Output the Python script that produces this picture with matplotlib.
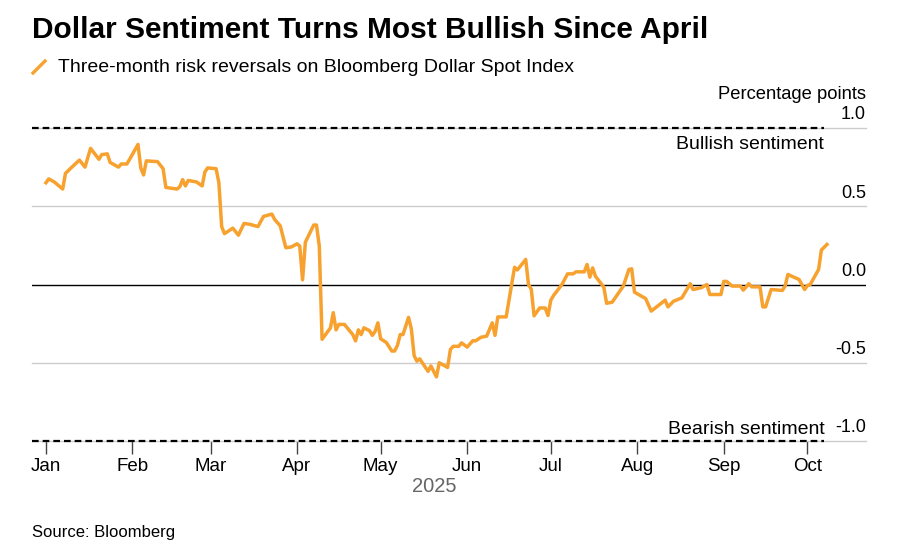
import datetime as dt
import matplotlib
matplotlib.use("Agg")
import matplotlib.pyplot as plt
import matplotlib.dates as mdates
from matplotlib.lines import Line2D

plt.rcParams['font.family'] = ['Liberation Sans', 'DejaVu Sans']

# days since 2025-01-01 and risk reversal values (percentage points)
day_offsets = [
    0, 1, 3, 6, 7, 9, 12, 14, 16, 19, 20, 22, 23, 26, 27, 29, 30, 33, 34, 35,
    36, 40, 42, 43, 47, 48, 49, 50, 51, 54, 56, 57, 58, 61, 62, 63, 64, 67, 69, 71,
    73, 76, 78, 81, 82, 84, 86, 88, 90, 91, 92, 93, 96, 97, 98, 99, 102, 103, 104, 105,
    107, 110, 111, 112, 113, 114, 116, 117, 118, 119, 120, 122, 124, 125, 126, 127, 128, 130, 131, 132,
    133, 134, 137, 138, 140, 141, 144, 145, 146, 148, 149, 151, 153, 154, 156, 158, 160, 161, 162, 165,
    168, 169, 172, 173, 174, 175, 177, 179, 180, 181, 182, 185, 187, 189, 190, 193, 194, 195, 196, 197,
    200, 201, 203, 207, 209, 210, 211, 215, 217, 222, 223, 225, 228, 231, 232, 235, 237, 238, 242, 243,
    244, 246, 249, 250, 252, 253, 256, 257, 258, 260, 264, 265, 266, 270, 272, 273, 274, 277, 278, 280,
]
risk_reversal = [
    0.65, 0.675, 0.655, 0.61, 0.71, 0.745, 0.795, 0.75, 0.87, 0.80, 0.83, 0.835, 0.78, 0.75, 0.77, 0.77, 0.80, 0.895, 0.745, 0.70,
    0.79, 0.785, 0.74, 0.62, 0.61, 0.625, 0.67, 0.63, 0.665, 0.655, 0.63, 0.72, 0.745, 0.74, 0.65, 0.37, 0.325, 0.36, 0.315, 0.39,
    0.385, 0.37, 0.435, 0.45, 0.415, 0.375, 0.235, 0.24, 0.26, 0.245, 0.03, 0.27, 0.38, 0.38, 0.245, -0.35, -0.277, -0.18, -0.29, -0.255,
    -0.255, -0.32, -0.36, -0.29, -0.32, -0.277, -0.295, -0.325, -0.30, -0.245, -0.347, -0.37, -0.425, -0.425, -0.39, -0.32, -0.32, -0.21, -0.283, -0.455,
    -0.49, -0.475, -0.555, -0.52, -0.59, -0.50, -0.53, -0.415, -0.395, -0.395, -0.373, -0.40, -0.36, -0.36, -0.337, -0.33, -0.245, -0.325, -0.207, -0.207,
    0.11, 0.093, 0.16, 0.0, -0.03, -0.20, -0.15, -0.15, -0.198, -0.10, -0.07, 0.0, 0.068, 0.068, 0.081, 0.081, 0.128, 0.047, 0.106, 0.053,
    -0.017, -0.12, -0.113, -0.01, 0.096, 0.10, -0.049, -0.09, -0.17, -0.10, -0.143, -0.107, -0.085, 0.005, -0.032, -0.02, 0.0, -0.064, -0.064, 0.02,
    0.02, -0.01, -0.01, -0.036, 0.005, -0.015, -0.015, -0.143, -0.143, -0.032, -0.038, -0.01, 0.064, 0.032, -0.032, -0.006, 0.0, 0.096, 0.22, 0.256,
]
y_ticks = [1.0, 0.5, 0.0, -0.5, -1.0]

start = dt.date(2025, 1, 1)
dates = [start + dt.timedelta(days=d) for d in day_offsets]
orange = '#f7a12f'

W, H = 904, 551
fig = plt.figure(figsize=(W / 100, H / 100), dpi=100)
ax = fig.add_axes([32 / W, 1 - 441 / H, (866 - 32) / W, (441 - 128) / H])
ax.set_xlim(dt.date(2024, 12, 27), dt.date(2025, 10, 22))
ax.set_ylim(-1.0, 1.0)

for s in ax.spines.values():
    s.set_visible(False)

# grid lines
for v in [1.0, 0.5, -0.5, -1.0]:
    ax.axhline(v, color='#cccccc', lw=1, clip_on=False)
ax.axhline(0.0, color='black', lw=1)
ax.axhline(1.0, xmax=0.95, color='black', lw=1.6, ls=(0, (3, 1.8)), clip_on=False)
ax.axhline(-1.0, xmax=0.95, color='black', lw=1.6, ls=(0, (3, 1.8)), clip_on=False)

ax.plot(dates, risk_reversal, color=orange, lw=2.5, solid_joinstyle='round')

# x axis
ax.xaxis.set_major_locator(mdates.MonthLocator(bymonth=range(1, 11)))
ax.xaxis.set_major_formatter(mdates.DateFormatter('%b'))
ax.tick_params(axis='x', length=9, width=1, color='#444444', labelsize=13.5, pad=3)
ax.set_yticks([])

# y labels sit above the lines, right aligned
for v in y_ticks:
    ax.text(1.0, v + 0.03, f'{v:.1f}', transform=ax.get_yaxis_transform(),
            ha='right', va='bottom', fontsize=13)
ax.text(1.0, 1.16, 'Percentage points', transform=ax.get_yaxis_transform(),
        ha='right', va='bottom', fontsize=13.2)
ax.text(0.95, 0.895, 'Bullish sentiment', transform=ax.get_yaxis_transform(),
        ha='right', va='center', fontsize=14)
ax.text(0.95, -0.925, 'Bearish sentiment', transform=ax.get_yaxis_transform(),
        ha='right', va='center', fontsize=14)

fig.text(434 / W, 1 - 487 / H, '2025', ha='center', va='center', fontsize=14.5, color='#666666')

fig.text(32 / W, 1 - 30 / H, 'Dollar Sentiment Turns Most Bullish Since April',
         ha='left', va='center', fontsize=21.5, fontweight='bold')
fig.add_artist(Line2D([33 / W, 45 / W], [1 - 73 / H, 1 - 61 / H], color=orange, lw=2.4,
                      transform=fig.transFigure))
fig.text(58 / W, 1 - 67 / H, 'Three-month risk reversals on Bloomberg Dollar Spot Index',
         ha='left', va='center', fontsize=14)
fig.text(32 / W, 1 - 532 / H, 'Source: Bloomberg', ha='left', va='center', fontsize=12)

fig.savefig('out.png', dpi=100)
